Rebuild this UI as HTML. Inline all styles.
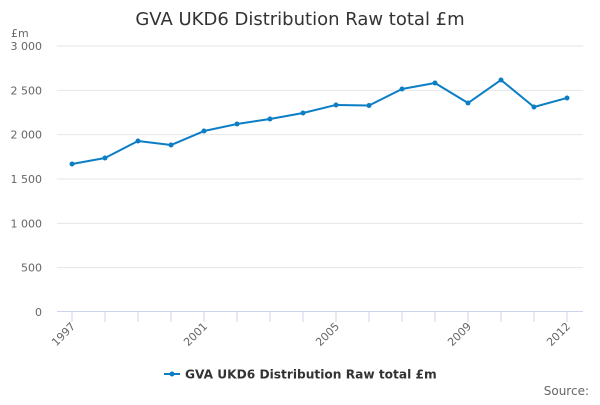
<!DOCTYPE html>
<html><head><meta charset="utf-8"><style>
body{margin:0;background:#fff;}
svg text{font-family:"DejaVu Sans","Liberation Sans",sans-serif;}
</style></head><body>
<svg width="600" height="400" xmlns="http://www.w3.org/2000/svg">
<text x="300" y="25" text-anchor="middle" font-size="18" fill="#333">GVA UKD6 Distribution Raw total £m</text>
<text x="11" y="37" font-size="11" fill="#666">£m</text>
<g id="grid"></g>
<g id="yticks"></g>
<g id="xaxis"></g>
<g id="series"></g>
<g>
<line x1="164" y1="374" x2="180" y2="374" stroke="#0b7ec5" stroke-width="2"/>
<circle cx="172" cy="374" r="2.5" fill="#0b7ec5"/>
<text x="185" y="378.5" font-size="12.2" font-weight="bold" fill="#333">GVA UKD6 Distribution Raw total £m</text>
</g>
<text x="589" y="395" text-anchor="end" font-size="12" fill="#666">Source:</text>
</svg>
<script>
const years=[1997,1998,1999,2000,2001,2002,2003,2004,2005,2006,2007,2008,2009,2010,2011,2012];
const values=[1669,1737,1929,1883,2041,2120,2177,2244,2335,2329,2515,2583,2357,2617,2312,2414];
const yTicks=[0,500,1000,1500,2000,2500,3000];
const yTickLabels=["0","500","1 000","1 500","2 000","2 500","3 000"];
const xLabels=[1997,2001,2005,2009,2012];
const NS="http://www.w3.org/2000/svg";
const x=v=>72+(v-1997)*33;
const y=v=>312-v*(266/3000);
function mk(t,a,p){const e=document.createElementNS(NS,t);for(const k in a)e.setAttribute(k,a[k]);p.appendChild(e);return e;}
const grid=document.getElementById('grid'),yt=document.getElementById('yticks'),xa=document.getElementById('xaxis'),se=document.getElementById('series');
yTicks.forEach((t,i)=>{
 if(t>0){const l=mk('line',{x1:57,x2:583,y1:y(t),y2:y(t),stroke:'#e6e6e6','stroke-width':1},grid);
 
 }
 const tx=mk('text',{x:42,y:y(t)+4,'text-anchor':'end','font-size':11,fill:'#666'},yt);
 tx.textContent=yTickLabels[i];
 
 
});
mk('line',{x1:57,x2:583,y1:311.5,y2:311.5,stroke:'#ccd6eb','stroke-width':1},xa);
years.forEach(v=>{const l=mk('line',{x1:x(v),x2:x(v),y1:312,y2:322,stroke:'#ccd6eb','stroke-width':1},xa);
 
 });
xLabels.forEach(v=>{const t=mk('text',{x:x(v)+4,y:327,'text-anchor':'end','font-size':11,fill:'#666',transform:`rotate(-45 ${x(v)+4} 327)`},xa);
 t.textContent=v;
 
 });
const pl=mk('polyline',{points:years.map((v,i)=>x(v)+','+y(values[i])).join(' '),fill:'none',stroke:'#0b7ec5','stroke-width':2,'stroke-linejoin':'round'},se);


years.forEach((v,i)=>{const c=mk('circle',{cx:x(v),cy:y(values[i]),r:2.5,fill:'#0b7ec5'},se);
 
 });
</script>
</body></html>
